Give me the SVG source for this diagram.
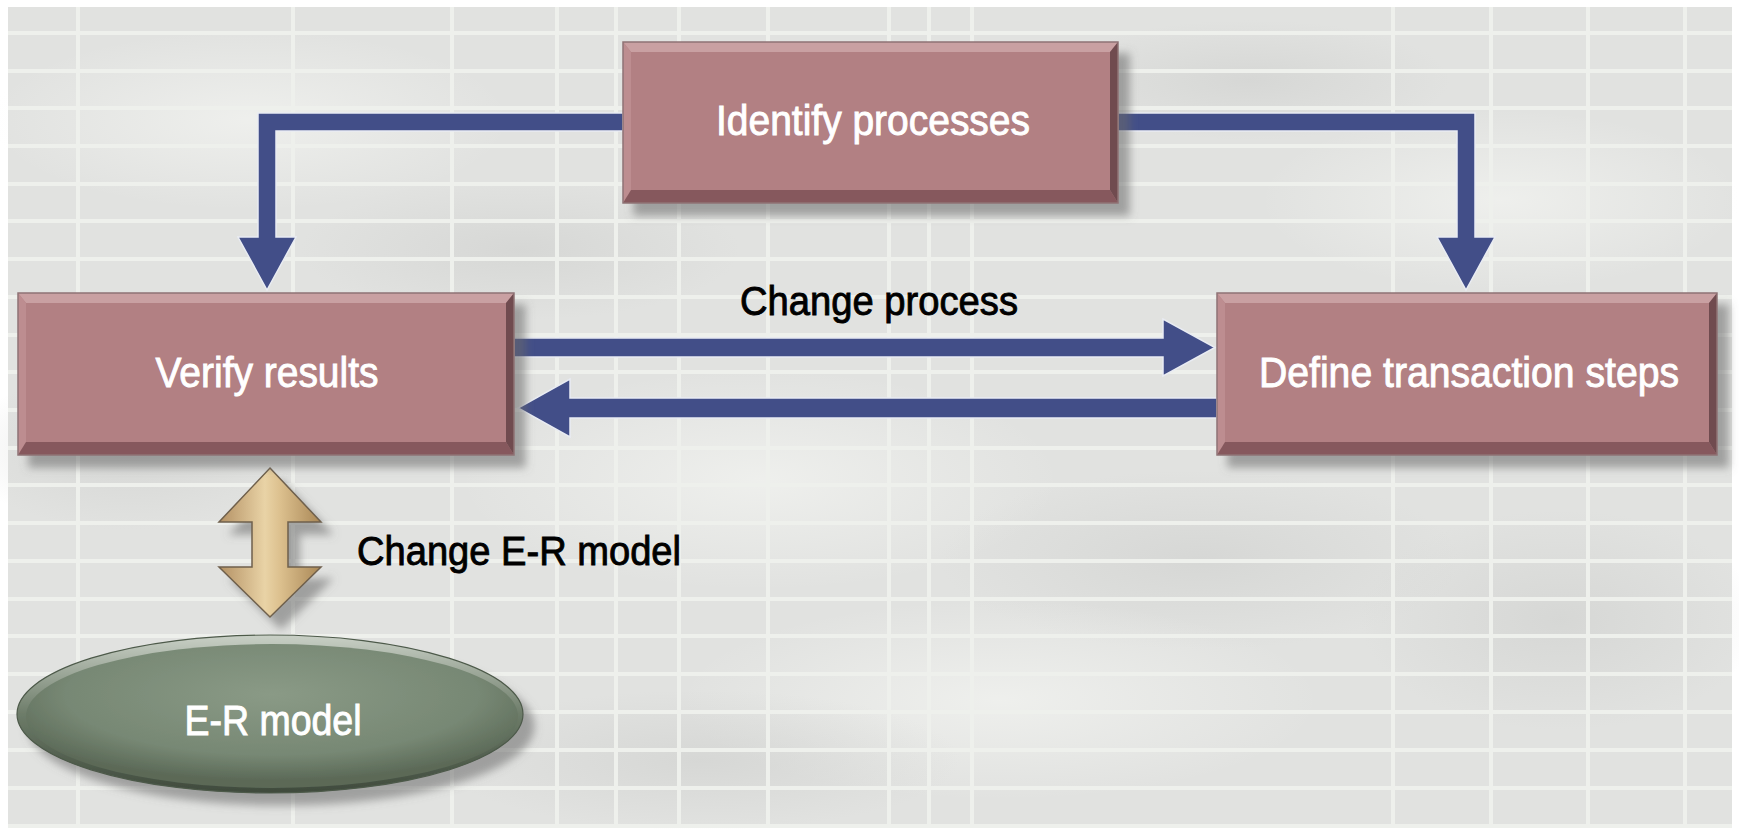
<svg xmlns="http://www.w3.org/2000/svg" width="1739" height="832" viewBox="0 0 1739 832">
  <style>
    .label { font-family: "Liberation Sans", Arial, sans-serif; font-size: 42px; text-anchor: middle; stroke-width: 0.9px; }
    .on-box { fill: #ffffff; stroke: #ffffff; }
    .on-bg { fill: #000000; stroke: #000000; font-size: 40px; }
    .grid line { stroke: #eef0ec; stroke-width: 4; }
    .conn { fill: #424e88; stroke: #e9ecf3; stroke-width: 1.5; stroke-linejoin: miter; }
    .face { fill: #b28083; }
    .bev-top { fill: #c9a0a2; }
    .bev-left { fill: #bd8d90; }
    .bev-bottom { fill: #86595d; }
    .bev-right { fill: #6f4c50; }
    .edge { fill: none; stroke: #8f7375; stroke-width: 1.5; }
  </style>
  <defs>
    <filter id="drop" x="-10%" y="-20%" width="130%" height="160%">
      <feGaussianBlur in="SourceAlpha" stdDeviation="4"/>
      <feOffset dx="11" dy="12" result="blur"/>
      <feFlood flood-color="#6a6a6a" flood-opacity="0.55"/>
      <feComposite in2="blur" operator="in"/>
      <feMerge>
        <feMergeNode/>
        <feMergeNode in="SourceGraphic"/>
      </feMerge>
    </filter>
    <radialGradient id="cloudLight" cx="50%" cy="50%" r="50%">
      <stop offset="0" stop-color="#f4f5f2" stop-opacity="0.7"/>
      <stop offset="1" stop-color="#f4f5f2" stop-opacity="0"/>
    </radialGradient>
    <radialGradient id="cloudDark" cx="50%" cy="50%" r="50%">
      <stop offset="0" stop-color="#cfd0ce" stop-opacity="0.6"/>
      <stop offset="1" stop-color="#cfd0ce" stop-opacity="0"/>
    </radialGradient>
    <radialGradient id="ellFill" cx="50%" cy="35%" r="60%">
      <stop offset="0" stop-color="#8a9a86"/>
      <stop offset="0.7" stop-color="#778874"/>
      <stop offset="1" stop-color="#5b6957"/>
    </radialGradient>
    <linearGradient id="ellRim" x1="0" y1="0" x2="0" y2="1">
      <stop offset="0" stop-color="#c9d0c6"/>
      <stop offset="0.5" stop-color="#6d7c69"/>
      <stop offset="1" stop-color="#3f4a3c"/>
    </linearGradient>
    <linearGradient id="tan" x1="0" y1="0" x2="1" y2="0">
      <stop offset="0" stop-color="#b39063"/>
      <stop offset="0.45" stop-color="#e9d3a6"/>
      <stop offset="0.6" stop-color="#dcc08e"/>
      <stop offset="1" stop-color="#a98756"/>
    </linearGradient>
  </defs>

  <!-- page -->
  <rect x="0" y="0" width="1739" height="832" fill="#ffffff"/>
  <rect x="8" y="7" width="1724" height="821" fill="#e1e2e0"/>

  <!-- soft cloudy shading of the backdrop -->
  <g id="backdrop-shading">
    <ellipse cx="250" cy="120" rx="260" ry="90" fill="url(#cloudLight)"/>
    <ellipse cx="520" cy="250" rx="220" ry="70" fill="url(#cloudDark)"/>
    <ellipse cx="760" cy="480" rx="300" ry="110" fill="url(#cloudLight)"/>
    <ellipse cx="1200" cy="560" rx="260" ry="90" fill="url(#cloudDark)"/>
    <ellipse cx="1000" cy="700" rx="320" ry="100" fill="url(#cloudLight)"/>
    <ellipse cx="1500" cy="200" rx="240" ry="90" fill="url(#cloudLight)"/>
    <ellipse cx="1560" cy="620" rx="200" ry="110" fill="url(#cloudDark)"/>
    <ellipse cx="700" cy="760" rx="260" ry="70" fill="url(#cloudDark)"/>
    <ellipse cx="130" cy="450" rx="170" ry="80" fill="url(#cloudDark)"/>
    <ellipse cx="1250" cy="80" rx="200" ry="60" fill="url(#cloudDark)"/>
  </g>

  <!-- grid -->
  <g class="grid">
    <line x1="8" y1="33" x2="1732" y2="33"/>
    <line x1="8" y1="71" x2="1732" y2="71"/>
    <line x1="8" y1="108" x2="1732" y2="108"/>
    <line x1="8" y1="146" x2="1732" y2="146"/>
    <line x1="8" y1="184" x2="1732" y2="184"/>
    <line x1="8" y1="221" x2="1732" y2="221"/>
    <line x1="8" y1="259" x2="1732" y2="259"/>
    <line x1="8" y1="297" x2="1732" y2="297"/>
    <line x1="8" y1="335" x2="1732" y2="335"/>
    <line x1="8" y1="372" x2="1732" y2="372"/>
    <line x1="8" y1="410" x2="1732" y2="410"/>
    <line x1="8" y1="448" x2="1732" y2="448"/>
    <line x1="8" y1="485" x2="1732" y2="485"/>
    <line x1="8" y1="523" x2="1732" y2="523"/>
    <line x1="8" y1="561" x2="1732" y2="561"/>
    <line x1="8" y1="599" x2="1732" y2="599"/>
    <line x1="8" y1="636" x2="1732" y2="636"/>
    <line x1="8" y1="674" x2="1732" y2="674"/>
    <line x1="8" y1="712" x2="1732" y2="712"/>
    <line x1="8" y1="750" x2="1732" y2="750"/>
    <line x1="8" y1="788" x2="1732" y2="788"/>
    <line x1="8" y1="826" x2="1732" y2="826"/>
    <line x1="78" y1="7" x2="78" y2="828"/>
    <line x1="293" y1="7" x2="293" y2="828"/>
    <line x1="452" y1="7" x2="452" y2="828"/>
    <line x1="557" y1="7" x2="557" y2="828"/>
    <line x1="616" y1="7" x2="616" y2="828"/>
    <line x1="679" y1="7" x2="679" y2="828"/>
    <line x1="768" y1="7" x2="768" y2="828"/>
    <line x1="889" y1="7" x2="889" y2="828"/>
    <line x1="929" y1="7" x2="929" y2="828"/>
    <line x1="972" y1="7" x2="972" y2="828"/>
    <line x1="1393" y1="7" x2="1393" y2="828"/>
    <line x1="1491" y1="7" x2="1491" y2="828"/>
    <line x1="1588" y1="7" x2="1588" y2="828"/>
    <line x1="1685" y1="7" x2="1685" y2="828"/>
  </g>

  <!-- connectors -->
  <g id="connectors">
    <path class="conn" d="M623,113 H258 V237 H238 L267,290 L296,237 H276 V131 H623 Z"/>
    <path class="conn" d="M1118,113 H1475 V237 H1495 L1466,290 L1437,237 H1457 V131 H1118 Z"/>
    <path class="conn" d="M514,338 H1163 V319 L1215,347.5 L1163,376 V357 H514 Z"/>
    <path class="conn" d="M1217,398 H570 V379 L518,408 L570,437 V418 H1217 Z"/>
    <text class="label on-bg" x="879" y="315" textLength="278" lengthAdjust="spacingAndGlyphs">Change process</text>
    <g id="er-link">
      <path filter="url(#drop)" fill="url(#tan)" stroke="#6f604c" stroke-width="1.5" d="M270,468 L321,522 H288 V567 H321 L270,617 L219,567 H252 V522 H219 Z"/>
      <text class="label on-bg" x="519" y="565" textLength="324" lengthAdjust="spacingAndGlyphs">Change E-R model</text>
    </g>
  </g>

  <!-- Identify processes -->
  <g id="identify-processes">
    <g filter="url(#drop)">
      <rect class="face" x="623" y="42" width="495" height="161"/>
      <polygon class="bev-top" points="623,42 1118,42 1110,52 631,52"/>
      <polygon class="bev-left" points="623,42 631,52 631,193 623,203"/>
      <polygon class="bev-bottom" points="623,203 631,190 1110,190 1118,203"/>
      <polygon class="bev-right" points="1118,42 1110,52 1110,190 1118,203"/>
      <rect class="edge" x="623" y="42" width="495" height="161"/>
    </g>
    <text class="label on-box" x="873" y="135" font-size="44" textLength="314" lengthAdjust="spacingAndGlyphs">Identify processes</text>
  </g>

  <!-- Verify results -->
  <g id="verify-results">
    <g filter="url(#drop)">
      <rect class="face" x="18" y="293" width="496" height="162"/>
      <polygon class="bev-top" points="18,293 514,293 506,303 26,303"/>
      <polygon class="bev-left" points="18,293 26,303 26,445 18,455"/>
      <polygon class="bev-bottom" points="18,455 26,442 506,442 514,455"/>
      <polygon class="bev-right" points="514,293 506,303 506,442 514,455"/>
      <rect class="edge" x="18" y="293" width="496" height="162"/>
    </g>
    <text class="label on-box" x="267" y="387" font-size="44" textLength="223" lengthAdjust="spacingAndGlyphs">Verify results</text>
  </g>

  <!-- Define transaction steps -->
  <g id="define-transaction-steps">
    <g filter="url(#drop)">
      <rect class="face" x="1217" y="293" width="500" height="162"/>
      <polygon class="bev-top" points="1217,293 1717,293 1709,303 1225,303"/>
      <polygon class="bev-left" points="1217,293 1225,303 1225,445 1217,455"/>
      <polygon class="bev-bottom" points="1217,455 1225,442 1709,442 1717,455"/>
      <polygon class="bev-right" points="1717,293 1709,303 1709,442 1717,455"/>
      <rect class="edge" x="1217" y="293" width="500" height="162"/>
    </g>
    <text class="label on-box" x="1469" y="387" font-size="44" textLength="420" lengthAdjust="spacingAndGlyphs">Define transaction steps</text>
  </g>

  <!-- E-R model -->
  <g id="er-model">
    <g filter="url(#drop)">
      <ellipse cx="270" cy="714" rx="253" ry="79" fill="url(#ellRim)"/>
      <ellipse cx="272" cy="716" rx="246" ry="72" fill="url(#ellFill)"/>
      <ellipse cx="270" cy="714" rx="253" ry="79" fill="none" stroke="#4d5a4a" stroke-width="1.2"/>
    </g>
    <text class="label on-box" x="273" y="735" textLength="177" lengthAdjust="spacingAndGlyphs">E-R model</text>
  </g>
</svg>
